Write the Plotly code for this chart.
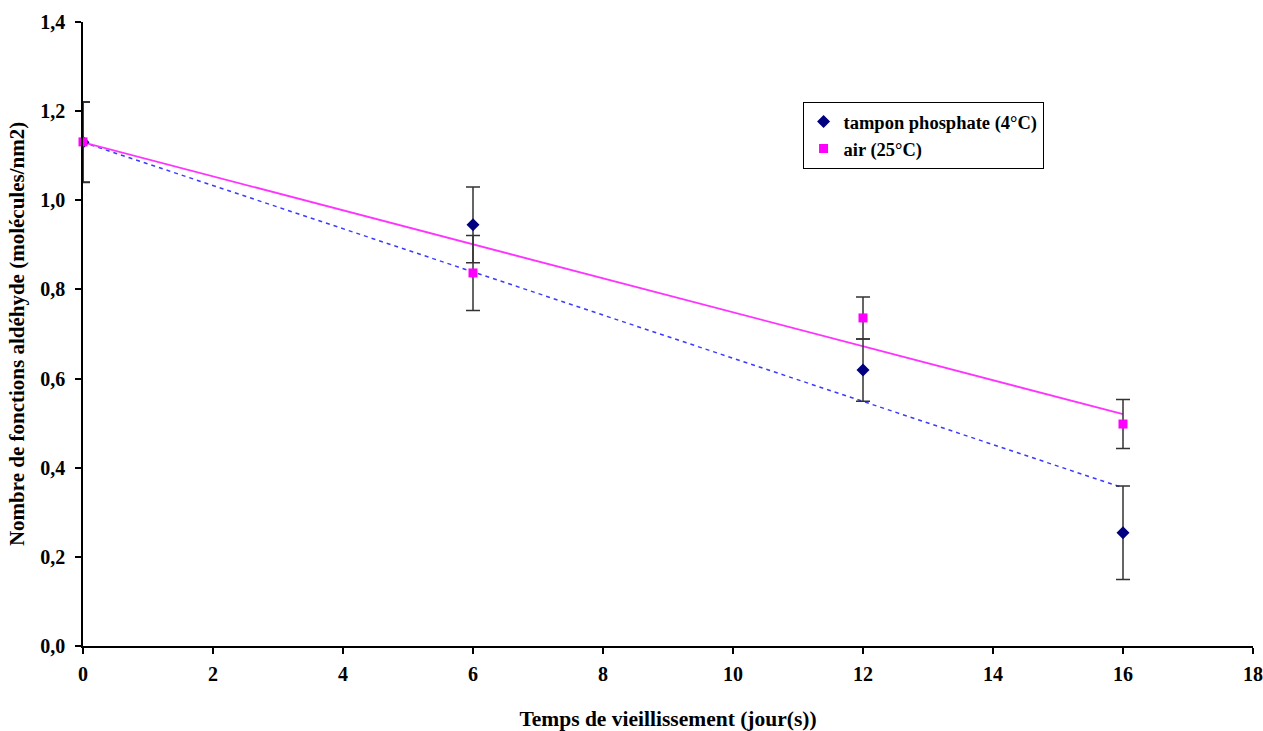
import plotly.graph_objects as go

# Data
days = [0, 6, 12, 16]
tampon = [1.13, 0.945, 0.619, 0.254]
tampon_err = [0.09, 0.085, 0.07, 0.105]
air = [1.131, 0.837, 0.736, 0.498]
air_err = [0.09, 0.084, 0.047, 0.055]

# Trend lines
trend_x = [0, 16]
trend_tampon = [1.13, 0.355]
trend_air = [1.13, 0.52]

x_ticks = [0, 2, 4, 6, 8, 10, 12, 14, 16, 18]
y_ticks = [0.0, 0.2, 0.4, 0.6, 0.8, 1.0, 1.2, 1.4]

font_family = "Liberation Serif"

fig = go.Figure()

fig.add_trace(go.Scatter(
    x=trend_x, y=trend_tampon, mode="lines",
    line=dict(color="#3b3bff", width=1.5, dash="4px,4px"),
    showlegend=False, hoverinfo="skip"))
fig.add_trace(go.Scatter(
    x=trend_x, y=trend_air, mode="lines",
    line=dict(color="#ff33ff", width=1.8),
    showlegend=False, hoverinfo="skip"))

fig.add_trace(go.Scatter(
    x=days, y=tampon, mode="markers", name="tampon phosphate (4°C)",
    marker=dict(symbol="diamond", color="#000080", size=10),
    cliponaxis=True,
    error_y=dict(type="data", array=tampon_err, visible=True,
                 color="#333333", thickness=1.5, width=7)))
fig.add_trace(go.Scatter(
    x=days, y=air, mode="markers", name="air (25°C)",
    marker=dict(symbol="square", color="#ff00ff", size=9),
    cliponaxis=False,
    error_y=dict(type="data", array=air_err, visible=True,
                 color="#333333", thickness=1.5, width=7)))

fig.update_layout(
    width=1263, height=731,
    margin=dict(l=83, r=10, t=22, b=85),
    paper_bgcolor="white", plot_bgcolor="white",
    separators=", ",
    font=dict(family=font_family, size=20, color="black"),
    legend=dict(
        x=0.615, y=0.872, xanchor="left", yanchor="top",
        bgcolor="white", bordercolor="black", borderwidth=1,
        font=dict(family=font_family, size=18.5, color="black", weight="bold"),
    ),
    xaxis=dict(
        range=[0, 18], tickvals=x_ticks, tickformat="d",
        automargin=False,
        showgrid=False, zeroline=False,
        showline=True, linecolor="black", linewidth=1.5,
        ticks="outside", ticklen=6, tickcolor="black", tickwidth=1.5,
        tickfont=dict(family=font_family, size=20, weight="bold"),
        ticklabelstandoff=3,
        title=dict(text="Temps de vieillissement (jour(s))",
                   font=dict(family=font_family, size=21.5, weight="bold"),
                   standoff=29),
    ),
    yaxis=dict(
        range=[0, 1.4], tickvals=y_ticks, tickformat=".1f",
        automargin=False,
        showgrid=False, zeroline=False,
        showline=True, linecolor="black", linewidth=1.5,
        ticks="outside", ticklen=6, tickcolor="black", tickwidth=1.5,
        tickfont=dict(family=font_family, size=20, weight="bold"),
        ticklabelstandoff=6,
        title=dict(text="Nombre de fonctions aldéhyde (molécules/nm2)",
                   font=dict(family=font_family, size=21, weight="bold"),
                   standoff=10),
    ),
)

post = ("document.body.style.margin='0';"
        "document.body.style.overflow='hidden';"
        "document.documentElement.style.overflow='hidden';")
fig.write_html("out.html", post_script=post, config={"displayModeBar": False})
